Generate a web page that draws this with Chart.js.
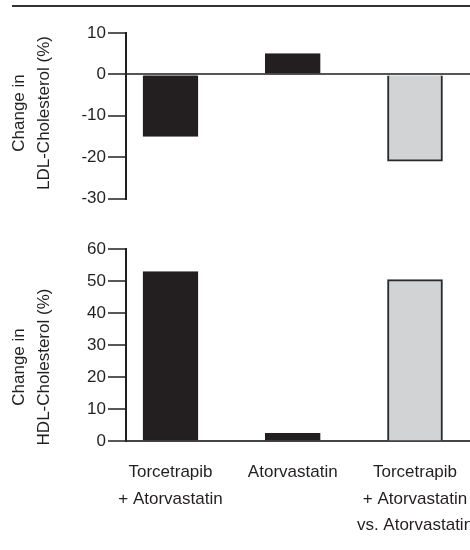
<!DOCTYPE html>
<html>
<head>
    <meta charset="utf-8">
    <title>Cholesterol change</title>
    <script src="https://cdn.jsdelivr.net/npm/chart.js@4.4.1/dist/chart.umd.min.js"></script>
    <style>
        body { margin: 0; background: #fff; }
        #wrap { position: relative; width: 470px; height: 550px; }
        #rule { position: absolute; left: 12px; top: 5px; width: 458px; height: 2px; background: #333; }
        #ldl { position: absolute; left: 0; top: 0; }
        #hdl { position: absolute; left: 0; top: 215px; }
    </style>
</head>
<body>
<div id="wrap">
    <div id="rule"></div>
    <canvas id="ldl" width="470" height="215"></canvas>
    <canvas id="hdl" width="470" height="335"></canvas>
</div>
<script>
// values
var drugs = ['Torcetrapib + Atorvastatin', 'Atorvastatin', 'Torcetrapib + Atorvastatin vs. Atorvastatin'];
var drugLines = [['Torcetrapib', '+ Atorvastatin'], ['Atorvastatin'], ['Torcetrapib', '+ Atorvastatin', 'vs. Atorvastatin']];
var ldlChange = [-15, 5, -21];
var hdlChange = [53, 2.5, 50.5];
var barColors = ['#231f20', '#231f20', '#d1d3d4'];
var barBorders = ['#231f20', '#231f20', '#2b2b2b'];

var FONT = "'Liberation Sans', Arial, sans-serif";
var INK = '#231f20';

Chart.defaults.font.family = FONT;
Chart.defaults.color = INK;

function points(vals) {
    return vals.map(function(v, i) { return {x: i, y: v}; });
}

// rotated two line axis title
var sideTitle = {
    id: 'sideTitle',
    afterDraw: function(chart, args, opts) {
        var ctx = chart.ctx;
        ctx.save();
        ctx.translate(opts.x, opts.y);
        ctx.rotate(-Math.PI / 2);
        ctx.font = '17px ' + FONT;
        ctx.fillStyle = INK;
        ctx.textAlign = 'center';
        ctx.textBaseline = 'middle';
        opts.lines.forEach(function(t, i) { ctx.fillText(t, 0, i * opts.gap); });
        ctx.restore();
    }
};

function xScale(show) {
    var s = {
        type: 'linear',
        min: -0.364,
        max: 2.45,
        offset: false,
        display: show,
        afterBuildTicks: function(axis) { axis.ticks = drugs.map(function(d, i) { return {value: i}; }); },
        grid: { display: false, drawTicks: false, offset: false },
        border: { display: true, color: '#444', width: 2 },
        ticks: {
            autoSkip: false,
            maxRotation: 0,
            padding: 18,
            font: { size: 17, lineHeight: 1.55 },
            color: INK,
            callback: function(v) { return drugLines[v] || ''; }
        }
    };
    if (show) {
        s.afterFit = function(axis) {
            axis.height = 108.7;
            axis.paddingLeft = 0;
            axis.paddingRight = 0;
        };
    }
    return s;
}

function yScale(min, max, zeroLine) {
    return {
        min: min,
        max: max,
        afterFit: function(axis) { axis.width = 126; },
        ticks: { stepSize: 10, padding: 2, font: { size: 17 }, color: INK },
        grid: {
            drawOnChartArea: zeroLine,
            color: function(c) { return c.tick && c.tick.value === 0 ? '#555' : 'rgba(0,0,0,0)'; },
            lineWidth: 2,
            tickLength: 18,
            tickColor: INK,
            tickWidth: 1.5
        },
        border: { display: true, color: INK, width: 2 }
    };
}

function dataset(vals) {
    return {
        data: points(vals),
        backgroundColor: barColors,
        borderColor: barBorders,
        borderWidth: [1, 1, 2],
        barThickness: 55
    };
}

new Chart(document.getElementById('ldl'), {
    type: 'bar',
    data: { datasets: [dataset(ldlChange)] },
    plugins: [sideTitle],
    options: {
        responsive: false,
        animation: false,
        layout: { padding: { top: 33, bottom: 16.5, left: 0, right: 0 } },
        scales: { x: xScale(false), y: yScale(-30, 10, true) },
        plugins: {
            legend: { display: false },
            tooltip: { enabled: false },
            sideTitle: { x: 19, y: 113, gap: 25, lines: ['Change in', 'LDL-Cholesterol (%)'] }
        }
    }
});

new Chart(document.getElementById('hdl'), {
    type: 'bar',
    data: { datasets: [dataset(hdlChange)] },
    plugins: [sideTitle],
    options: {
        responsive: false,
        animation: false,
        layout: { padding: { top: 34.3, bottom: 0, left: 0, right: 0 } },
        scales: { x: xScale(true), y: yScale(0, 60, false) },
        plugins: {
            legend: { display: false },
            tooltip: { enabled: false },
            sideTitle: { x: 19, y: 152, gap: 25, lines: ['Change in', 'HDL-Cholesterol (%)'] }
        }
    }
});
</script>
</body>
</html>
